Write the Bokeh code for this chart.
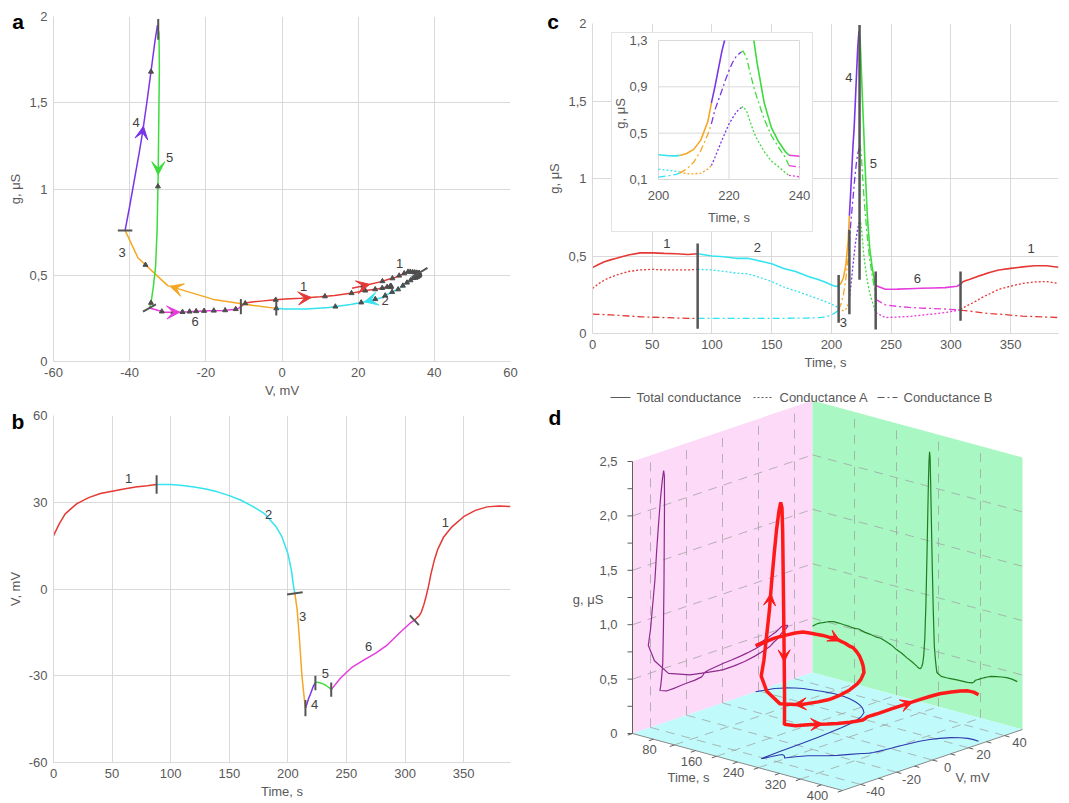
import numpy as np
from bokeh.plotting import figure
from bokeh.layouts import row, column
from bokeh.models import FixedTicker, Range1d, Arrow, VeeHead, CustomJSTickFormatter, Div
from bokeh.core.properties import value
from bokeh.embed import file_html
from bokeh.resources import INLINE

FONT = "Liberation Sans"
GRAY = "#595959"
GRID = "#D9D9D9"
MARK = "#555555"

# ---------------- data ----------------
time_s = [0, 5, 10, 15, 20, 30, 40, 50, 60, 70, 80, 88,
          100, 110, 120, 130, 140, 150, 160, 170, 180, 190, 195, 200, 203, 205, 206,
          208, 210, 212, 214, 215,
          216, 218, 219, 220, 221, 222, 223,
          224, 225, 226, 227, 228, 230, 232, 234, 236, 237,
          245, 255, 265, 275, 285, 295, 305, 308,
          310, 312, 314, 316, 318, 320, 322, 325, 328, 333, 340, 350, 360, 370, 380, 390]
voltage_mV = [18.4, 22.6, 26, 27.8, 29.5, 31.6, 33, 33.8, 34.6, 35.3, 35.7, 36.1,
              36.1, 35.8, 35.3, 34.6, 33.6, 32.3, 30.7, 28.6, 26.1, 21.5, 18, 12.3, 6.5, 0.5, -1.5,
              -7.5, -18, -30, -37.8, -41.2,
              -40, -37.5, -36.6, -35.5, -34.4, -33.4, -32.7,
              -32.3, -32.2, -32.3, -32.4, -32.5, -32.8, -33.2, -33.8, -34.4, -34.8,
              -30.8, -27, -24.5, -22.2, -19.3, -15.3, -11.6, -10.8,
              -10.0, -9.3, -7.9, -5.5, -2.5, 0.9, 5, 10, 13.8, 18, 21.5, 25, 27.2, 28.4, 28.7, 28.5]
g_total = [0.425, 0.445, 0.463, 0.475, 0.485, 0.506, 0.52, 0.52, 0.517, 0.515, 0.51, 0.515,
           0.50, 0.495, 0.485, 0.485, 0.468, 0.45, 0.42, 0.40, 0.37, 0.345, 0.33, 0.313, 0.305, 0.304, 0.308,
           0.325, 0.36, 0.44, 0.60, 0.76,
           0.90, 1.21, 1.33, 1.50, 1.68, 1.85, 1.95,
           1.90, 1.70, 1.50, 1.31, 1.10, 0.76, 0.55, 0.43, 0.34, 0.31,
           0.285, 0.286, 0.289, 0.292, 0.294, 0.296, 0.305, 0.318,
           0.334, 0.34, 0.345, 0.35, 0.356, 0.362, 0.367, 0.375, 0.383, 0.395, 0.41, 0.42, 0.43, 0.437, 0.437, 0.427]
g_A = [0.29, 0.32, 0.345, 0.362, 0.377, 0.40, 0.41, 0.414, 0.41, 0.41, 0.41, 0.414,
       0.41, 0.40, 0.39, 0.385, 0.362, 0.335, 0.30, 0.275, 0.248, 0.22, 0.205, 0.19, 0.178, 0.17, 0.165,
       0.15, 0.148, 0.155, 0.19, 0.22,
       0.29, 0.44, 0.51, 0.58, 0.63, 0.68, 0.71,
       0.73, 0.69, 0.60, 0.51, 0.445, 0.34, 0.26, 0.21, 0.16, 0.135,
       0.103, 0.106, 0.11, 0.118, 0.126, 0.135, 0.148, 0.155,
       0.165, 0.173, 0.181, 0.189, 0.197, 0.205, 0.214, 0.228, 0.24, 0.258, 0.285, 0.306, 0.323, 0.333, 0.335, 0.323]
g_B = [0.125, 0.124, 0.122, 0.12, 0.118, 0.113, 0.108, 0.105, 0.103, 0.10, 0.098, 0.097,
       0.097, 0.097, 0.097, 0.097, 0.097, 0.097, 0.098, 0.099, 0.10, 0.103, 0.106, 0.12, 0.133, 0.145, 0.155,
       0.19, 0.25, 0.35, 0.49, 0.58,
       0.70, 0.87, 0.96, 1.04, 1.11, 1.16, 1.19,
       1.21, 1.15, 1.02, 0.90, 0.80, 0.62, 0.48, 0.38, 0.29, 0.22,
       0.185, 0.175, 0.168, 0.164, 0.161, 0.158, 0.153, 0.151,
       0.149, 0.148, 0.146, 0.144, 0.142, 0.14, 0.138, 0.135, 0.132, 0.128, 0.125, 0.118, 0.112, 0.109, 0.106, 0.103]
# in the 3-D view (panel d) the conductance spike is drawn taller
d_spike_times = [218, 219, 220, 221, 222, 223, 224, 225, 226, 227, 228, 230]
d_spike_g = [1.35, 1.6, 1.85, 2.08, 2.24, 2.32, 2.27, 2.05, 1.8, 1.55, 1.3, 0.88]

phase_bounds = [0, 88, 206, 215, 223.5, 237, 308, 390]
phase_colors = ["#E53935", "#33E3F0", "#F5A623", "#7B35E8", "#3CDC3C", "#E63CDC", "#E53935"]
boundary_times = [88, 206, 215, 223.5, 237, 308]

x_ticks_a = [-60, -40, -20, 0, 20, 40, 60]
y_ticks_g = [0, 0.5, 1, 1.5, 2]
x_ticks_t = [0, 50, 100, 150, 200, 250, 300, 350]
y_ticks_b = [-60, -30, 0, 30, 60]
inset_x_ticks = [200, 220, 240]
inset_y_ticks = [0.1, 0.5, 0.9, 1.3]
inset_y_labels = ["0,1", "0,5", "0,9", "1,3"]
d_t_ticks = [80, 160, 240, 320, 400]
d_v_ticks = [-40, -20, 0, 20, 40]
d_g_ticks = [0, 0.5, 1.0, 1.5, 2.0, 2.5]
d_g_labels = ["0", "0,5", "1,0", "1,5", "2,0", "2,5"]
legend_names = ["Total conductance", "Conductance A", "Conductance B"]
panel_names = ["a", "b", "c", "d"]

a_lab_txt = ["1", "1", "2", "3", "4", "5", "6"]
a_lab_x = [5.7, 30.9, 27.1, -42, -38.3, -29.5, -22.8]
a_lab_y = [0.434, 0.566, 0.353, 0.633, 1.386, 1.18, 0.234]
b_lab_txt = ["1", "2", "3", "4", "5", "6", "1"]
b_lab_x = [64, 183.5, 212.6, 222.8, 232, 269, 334.4]
b_lab_y = [38.2, 25.7, -9.5, -40, -29.3, -19.9, 22.9]
c_lab_txt = ["1", "2", "3", "4", "5", "6", "1"]
c_lab_x = [62.3, 138, 210, 214.5, 235, 271.8, 367]
c_lab_y = [0.583, 0.557, 0.071, 1.654, 1.097, 0.356, 0.55]

a_arrow_times = [5, 189, 211.3, 218.6, 227.5, 255, 323]
d_arrow_times = [100, 210, 218, 229.5, 270, 325]

T = np.array(time_s, float)
V = np.array(voltage_mV, float)
GT = np.array(g_total, float)
GA = np.array(g_A, float)
GB = np.array(g_B, float)
G3 = GT.copy()
for ts, gs in zip(d_spike_times, d_spike_g):
    G3[T == ts] = gs


def piece(y, a, b):
    m = (T > a) & (T < b)
    tt = np.concatenate([[a], T[m], [b]])
    yy = np.concatenate([[np.interp(a, T, y)], y[m], [np.interp(b, T, y)]])
    return tt, yy


def phase_of(t):
    i = int(np.searchsorted(phase_bounds, t, side="right")) - 1
    return max(0, min(i, len(phase_colors) - 1))


def clip_top(x, y, top):
    xs, ys = [x[0]], [y[0]]
    for i in range(1, len(x)):
        x0, y0, x1, y1 = x[i - 1], y[i - 1], x[i], y[i]
        if (y0 - top) * (y1 - top) < 0:
            xs.append(x0 + (top - y0) * (x1 - x0) / (y1 - y0))
            ys.append(top)
        xs.append(x1)
        ys.append(y1)
    xs = np.array(xs, float)
    ys = np.array(ys, float)
    ys[ys > top + 1e-9] = np.nan
    return xs, ys


def make_fig(w, h, l, r, t, b, xr, yr):
    p = figure(width=w, height=h, x_range=Range1d(*xr), y_range=Range1d(*yr),
               min_border_left=l, min_border_right=r, min_border_top=t, min_border_bottom=b,
               toolbar_location=None, output_backend="svg")
    p.outline_line_color = None
    p.background_fill_color = "white"
    p.border_fill_color = "white"
    p.grid.grid_line_color = GRID
    p.grid.grid_line_width = 1
    for ax in p.axis:
        ax.formatter = CustomJSTickFormatter(code="return tick.toString().replace('.', ',');")
        ax.axis_line_color = GRID
        ax.major_tick_line_color = None
        ax.minor_tick_line_color = None
        ax.major_tick_out = 0
        ax.major_tick_in = 0
        ax.minor_tick_out = 0
        ax.minor_tick_in = 0
        ax.major_label_text_font = FONT
        ax.major_label_text_font_size = "13px"
        ax.major_label_text_color = GRAY
        ax.axis_label_text_font = FONT
        ax.axis_label_text_font_size = "13px"
        ax.axis_label_text_font_style = "normal"
        ax.axis_label_text_color = GRAY
        ax.major_label_standoff = 6
        ax.axis_label_standoff = 3
    return p


def page_text(txt, cx, cy, size=21, bold=True, color="black"):
    # absolutely positioned text on the page (outside the plot frames)
    return Div(text=txt, width=60, height=30,
               styles={"position": "absolute", "left": f"{cx - 30}px", "top": f"{cy - 15}px",
                       "width": "60px", "height": "30px", "line-height": "30px",
                       "text-align": "center", "font-family": FONT, "font-size": f"{size}px",
                       "font-weight": "bold" if bold else "normal", "color": color,
                       "z-index": "10", "margin": "0", "padding": "0"})


def num_labels(p, xs, ys, txt, **kw):
    p.text(x=xs, y=ys, text=txt, text_font=value(FONT), text_font_size="13px",
           text_color="#404040", text_align="center", text_baseline="middle", **kw)


# ---------------- panel a ----------------
fa = make_fig(540, 402, 53, 30, 16, 41, (-60, 60), (0, 2))
fa.xaxis.ticker = FixedTicker(ticks=x_ticks_a)
fa.yaxis.ticker = FixedTicker(ticks=y_ticks_g)
fa.xaxis.axis_label = "V, mV"
fa.yaxis.axis_label = "g, μS"
for i in range(len(phase_colors)):
    a, b = phase_bounds[i], phase_bounds[i + 1]
    _, vv = piece(V, a, b)
    _, gg = piece(GT, a, b)
    fa.line(vv, gg, line_color=phase_colors[i], line_width=1.5)
tm = np.arange(3.5, 390, 7.5)
fa.scatter(np.interp(tm, T, V), np.interp(tm, T, GT), marker="triangle", size=5,
           fill_color="#4D4D4D", line_color="#4D4D4D")
a_mark_half = [(2.1, 0.028), (0, 0.042), (1.9, 0), (0, 0.06), (1.7, 0.021), (0, 0.044)]
for tb, (dx, dy) in zip(boundary_times, a_mark_half):
    cx, cy = np.interp(tb, T, V), np.interp(tb, T, GT)
    fa.segment(cx - dx, cy - dy, cx + dx, cy + dy, line_color=MARK, line_width=2)
for ta in a_arrow_times:
    c = phase_colors[phase_of(ta)]
    fa.add_layout(Arrow(x_start=float(np.interp(ta - 0.6, T, V)), y_start=float(np.interp(ta - 0.6, T, GT)),
                        x_end=float(np.interp(ta + 0.6, T, V)), y_end=float(np.interp(ta + 0.6, T, GT)),
                        line_alpha=0, end=VeeHead(size=13, fill_color=c, line_color=c, line_width=1)))
num_labels(fa, a_lab_x, a_lab_y, a_lab_txt)

# ---------------- panel b ----------------
fb = make_fig(540, 401, 53, 30, 13, 41, (0, 390), (-60, 60))
fb.xaxis.ticker = FixedTicker(ticks=x_ticks_t)
fb.yaxis.ticker = FixedTicker(ticks=y_ticks_b)
fb.xaxis.axis_label = "Time, s"
fb.yaxis.axis_label = "V, mV"
for i in range(len(phase_colors)):
    tt, vv = piece(V, phase_bounds[i], phase_bounds[i + 1])
    fb.line(tt, vv, line_color=phase_colors[i], line_width=1.5)
b_mark_half = [(0, 3.2), (6.7, 0.4), (0, 2.8), (0, 2.5), (0, 2.5), (3.85, -1.7)]
for tb, (dx, dy) in zip(boundary_times, b_mark_half):
    cy = np.interp(tb, T, V)
    fb.segment(tb - dx, cy - dy, tb + dx, cy + dy, line_color=MARK, line_width=2)
num_labels(fb, b_lab_x, b_lab_y, b_lab_txt)

# ---------------- panel c ----------------
fc = make_fig(529, 383, 52, 11, 23, 50, (0, 390), (0, 2))
fc.xaxis.ticker = FixedTicker(ticks=x_ticks_t)
fc.yaxis.ticker = FixedTicker(ticks=y_ticks_g)
fc.xaxis.axis_label = "Time, s"
fc.yaxis.axis_label = "g, μS"
styles = [("solid", 1.6, GT), ("2 2", 1.3, GA), ("7 3 2 3", 1.3, GB)]
for dash, lw, series in styles:
    for i in range(len(phase_colors)):
        tt, yy = piece(series, phase_bounds[i], phase_bounds[i + 1])
        fc.line(tt, yy, line_color=phase_colors[i], line_width=lw, line_dash=dash)
c_mark_lo = [0.03, 0.07, 0.125, 0.347, 0.026, 0.082]
c_mark_hi = [0.58, 0.377, 0.67, 1.99, 0.40, 0.40]
fc.segment(boundary_times, c_mark_lo, boundary_times, c_mark_hi, line_color=MARK, line_width=2.5)
num_labels(fc, c_lab_x, c_lab_y, c_lab_txt)

# inset (drawn through an extra pair of ranges on the same frame)
FW, FH = 466, 310
IL, IW, IT, IH = 66, 141, 17, 139
sx = (inset_x_ticks[-1] - inset_x_ticks[0]) / IW
sy = (inset_y_ticks[-1] - inset_y_ticks[0]) / IH
ix0 = inset_x_ticks[0] - IL * sx
iy1 = inset_y_ticks[-1] + IT * sy
fc.extra_x_ranges = {"ix": Range1d(ix0, ix0 + FW * sx)}
fc.extra_y_ranges = {"iy": Range1d(iy1 - FH * sy, iy1)}
ik = dict(x_range_name="ix", y_range_name="iy")
fc.quad(left=ix0 + 19 * sx, right=ix0 + 220 * sx, top=iy1 - 9 * sy, bottom=iy1 - 208 * sy,
        fill_color="white", line_color="#E3E3E3", line_width=1, **ik)
x_lo, x_hi = inset_x_ticks[0], inset_x_ticks[-1]
y_lo, y_hi = inset_y_ticks[0], inset_y_ticks[-1]
fc.segment(inset_x_ticks, [y_lo] * 3, inset_x_ticks, [y_hi] * 3, line_color=GRID, line_width=1, **ik)
fc.segment([x_lo] * 4, inset_y_ticks, [x_hi] * 4, inset_y_ticks, line_color=GRID, line_width=1, **ik)
for dash, lw, series in styles:
    for i in range(len(phase_colors)):
        a, b = max(phase_bounds[i], x_lo), min(phase_bounds[i + 1], x_hi)
        if a >= b:
            continue
        tt, yy = piece(series, a, b)
        tt, yy = clip_top(tt, yy, y_hi)
        fc.line(tt, yy, line_color=phase_colors[i], line_width=lw, line_dash=dash, **ik)
fc.text(x=[x_lo - 11 * sx] * 4, y=inset_y_ticks, text=inset_y_labels, text_font=value(FONT),
        text_font_size="13px", text_color=GRAY, text_align="right", text_baseline="middle", **ik)
fc.text(x=inset_x_ticks, y=[y_lo - 16 * sy] * 3, text=[str(v) for v in inset_x_ticks],
        text_font=value(FONT), text_font_size="13px", text_color=GRAY, text_align="center",
        text_baseline="middle", **ik)
fc.text(x=[(x_lo + x_hi) / 2], y=[y_lo - 38 * sy], text=["Time, s"], text_font=value(FONT),
        text_font_size="13px", text_color=GRAY, text_align="center", text_baseline="middle", **ik)
fc.text(x=[x_lo - 38 * sx], y=[y_hi - 73 * sy], text=["g, μS"], text_font=value(FONT), angle=np.pi / 2,
        text_font_size="13px", text_color=GRAY, text_align="center", text_baseline="middle", **ik)

# ---------------- panel d (3-D projection drawn in pixel space) ----------------
# frame is aligned with panel c's frame (x 52..518 of this 529-wide column)
fd = figure(width=529, height=420, x_range=Range1d(52, 518), y_range=Range1d(420, 0),
            x_axis_type=None, y_axis_type=None, min_border_left=52, min_border_right=11,
            min_border_top=0, min_border_bottom=0, toolbar_location=None,
            output_backend="svg")
fd.outline_line_color = None
fd.grid.visible = False
O = (92.0, 350.0)
TX = (0.525, 0.1425)
VX = (1.8, -0.61)
GPX = -108.8
T_MAX, V_MIN, V_MAX, G_MAX = 400.0, -50.0, 50.0, 2.5


def proj(t, v, g):
    t = np.asarray(t, float)
    v = np.asarray(v, float)
    g = np.asarray(g, float)
    return (O[0] + TX[0] * t + VX[0] * (v - V_MIN),
            O[1] + TX[1] * t + VX[1] * (v - V_MIN) + GPX * g)


px, py = proj([0, 0, 0, 0], [V_MIN, V_MAX, V_MAX, V_MIN], [0, 0, G_MAX, G_MAX])
fd.patch(px, py, fill_color="#FCDAF8", line_color=None)
px, py = proj([0, T_MAX, T_MAX, 0], [V_MAX] * 4, [0, 0, G_MAX, G_MAX])
fd.patch(px, py, fill_color="#A9F7C3", line_color=None)
px, py = proj([0, T_MAX, T_MAX, 0], [V_MIN, V_MIN, V_MAX, V_MAX], [0, 0, 0, 0])
fd.patch(px, py, fill_color="#C0FAFA", line_color=None)

gx, gy = [], []
for v in d_v_ticks:
    a = proj([0, 0], [v, v], [0, G_MAX]); gx.append(list(a[0])); gy.append(list(a[1]))
    a = proj([0, T_MAX], [v, v], [0, 0]); gx.append(list(a[0])); gy.append(list(a[1]))
for t in d_t_ticks[:-1]:
    a = proj([t, t], [V_MAX, V_MAX], [0, G_MAX]); gx.append(list(a[0])); gy.append(list(a[1]))
    a = proj([t, t], [V_MIN, V_MAX], [0, 0]); gx.append(list(a[0])); gy.append(list(a[1]))
for g in d_g_ticks[1:-1]:
    a = proj([0, 0], [V_MIN, V_MAX], [g, g]); gx.append(list(a[0])); gy.append(list(a[1]))
    a = proj([0, T_MAX], [V_MAX, V_MAX], [g, g]); gx.append(list(a[0])); gy.append(list(a[1]))
fd.multi_line(gx, gy, line_color="#A0A0A0", line_width=1, line_dash="9 7", line_alpha=0.75)

# axes
a = proj([0, 0], [V_MIN, V_MIN], [0, G_MAX])
fd.line(a[0], a[1], line_color="#606060", line_width=1)
a = proj([0, T_MAX], [V_MIN, V_MIN], [0, 0])
fd.line(a[0], a[1], line_color="#8A8A8A", line_width=1)
a = proj([T_MAX, T_MAX], [V_MIN, V_MAX], [0, 0])
fd.line(a[0], a[1], line_color="#8A8A8A", line_width=1)
gt = np.arange(0, G_MAX + 0.01, 0.25)
x0, y0 = proj(np.zeros_like(gt), np.full_like(gt, V_MIN), gt)
fd.segment(x0, y0, x0 - 5, y0, line_color="#606060", line_width=1)
tt = np.arange(0, T_MAX + 1, 40)
x0, y0 = proj(tt, np.full_like(tt, V_MIN), np.zeros_like(tt))
fd.segment(x0, y0, x0 - 4.7, y0 + 1.6, line_color="#606060", line_width=1)
vt = np.arange(V_MIN + 10, V_MAX, 10)
x0, y0 = proj(np.full_like(vt, T_MAX), vt, np.zeros_like(vt))
fd.segment(x0, y0, x0 + 4.8, y0 + 1.3, line_color="#606060", line_width=1)

tk = dict(text_font=value(FONT), text_font_size="13px", text_color=GRAY, text_baseline="middle")
x0, y0 = proj(d_t_ticks, [V_MIN] * 5, [0] * 5)
fd.text(x=x0 - 25, y=y0 + 5, text=[str(v) for v in d_t_ticks], text_align="center", **tk)
x0, y0 = proj([T_MAX] * 5, d_v_ticks, [0] * 5)
fd.text(x=x0 + 15, y=y0 + 7, text=[str(v) for v in d_v_ticks], text_align="center", **tk)
x0, y0 = proj([0] * 6, [V_MIN] * 6, d_g_ticks)
fd.text(x=x0 - 15, y=y0, text=d_g_labels, text_align="right", **tk)
fd.text(x=[148], y=[394], text=["Time, s"], text_align="center", **tk)
fd.text(x=[432], y=[394], text=["V, mV"], text_align="center", **tk)

# projections
x0, y0 = proj(np.zeros_like(T), V, G3)
fd.line(x0, y0, line_color="#8E2A8E", line_width=1.2)
x0, y0 = proj(T, np.full_like(T, V_MAX), G3)
fd.line(x0, y0, line_color="#1E7D1E", line_width=1.2)
x0, y0 = proj(T, V, np.zeros_like(T))
fd.line(x0, y0, line_color="#2E3AAE", line_width=1.1)
x0, y0 = proj(T, V, G3)
fd.line(x0, y0, line_color="#FF1A1A", line_width=3.5)
for ta in d_arrow_times:
    xs, ys = proj([ta - 0.6, ta + 0.6], np.interp([ta - 0.6, ta + 0.6], T, V),
                  np.interp([ta - 0.6, ta + 0.6], T, G3))
    fd.add_layout(Arrow(x_start=float(xs[0]), y_start=float(ys[0]), x_end=float(xs[1]), y_end=float(ys[1]),
                        line_alpha=0, end=VeeHead(size=12, fill_color="#FF1A1A", line_color="#FF1A1A")))

# legend of panel c line styles
leg_x = [70, 213, 337]
leg_dash = ["solid", "2 2", "7 3 2 3"]
for lx, ld in zip(leg_x, leg_dash):
    fd.line([lx, lx + 20], [14, 14], line_color=GRAY, line_width=1.2, line_dash=ld)
fd.text(x=[lx + 26 for lx in leg_x], y=[14] * 3, text=legend_names, text_align="left", **tk)

# page-level texts lying outside the plot frames
letters = [page_text(n, x, y) for n, x, y in zip(panel_names, [18, 18, 553, 555], [22, 422, 22, 418])]
g_title_d = page_text("g, μS", 588, 600, size=13, bold=False, color=GRAY)

layout = row(column(fa, fb), column(fc, fd), *letters, g_title_d)
open("out.html", "w").write(file_html(layout, INLINE))
